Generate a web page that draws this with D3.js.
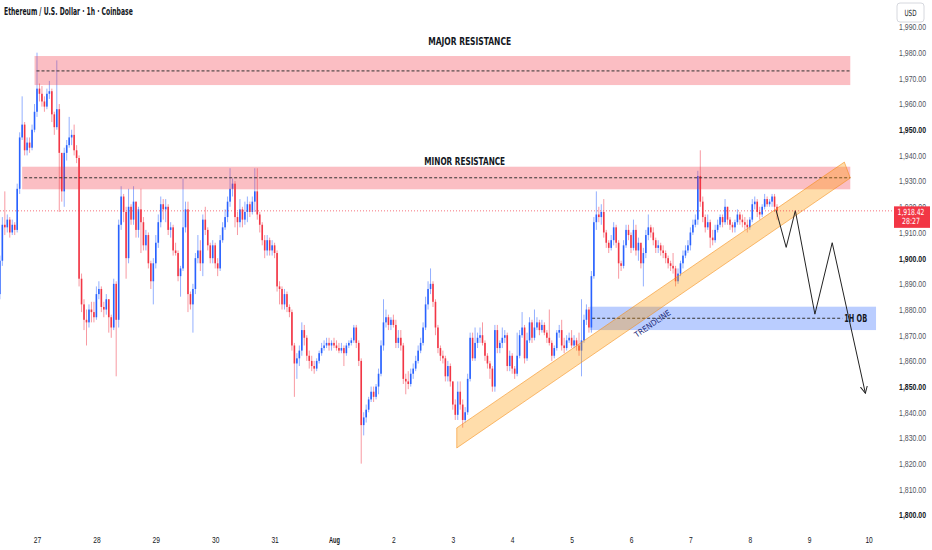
<!DOCTYPE html>
<html>
<head>
<meta charset="utf-8">
<script src="https://cdn.jsdelivr.net/npm/d3@7"></script>
<style>
body { margin: 0; background: #fff; }
svg { display: block; font-family: "Liberation Sans Narrow", "DejaVu Sans Condensed", Roboto, sans-serif; }
</style>
</head>
<body>
<script>
// hourly candles, hour 0 = Jul 27 00:00, first candle is Jul 26 09:00
const firstHour = -15;
const firstOpen = 1886;
const closes = [1899,1913,1912,1915,1910,1913,1911,1927,1947,1952,1942,1945,1943,1950,1957,1966,1964,1961,1959,1964,
1965,1956,1951,1958,1941,1926,1941,1944,1947,1948,1942,1939,1892,1882,1876,1875,1880,1879,1877,1886,
1888,1881,1880,1884,1877,1873,1890,1876,1913,1924,1918,1900,1920,1915,1922,1911,1919,1914,1905,1909,
1898,1891,1898,1906,1914,1921,1919,1920,1911,1912,1903,1902,1893,1896,1912,1919,1886,1882,1888,1900,
1903,1898,1915,1911,1905,1900,1905,1898,1896,1907,1912,1916,1922,1927,1929,1916,1914,1919,1915,1918,
1921,1918,1922,1926,1917,1913,1907,1903,1907,1903,1905,1902,1889,1888,1882,1886,1881,1879,1866,1859,
1861,1864,1872,1869,1862,1860,1858,1857,1860,1863,1865,1866,1867,1866,1867,1866,1865,1864,1865,1863,
1866,1867,1868,1873,1867,1860,1835,1838,1841,1845,1848,1846,1850,1855,1866,1875,1877,1874,1876,1874,
1867,1869,1866,1853,1852,1851,1855,1857,1860,1864,1867,1873,1882,1888,1890,1883,1873,1865,1862,1861,
1854,1858,1852,1843,1839,1848,1843,1837,1840,1853,1869,1861,1867,1869,1870,1867,1862,1859,1857,1850,
1872,1865,1867,1869,1870,1858,1862,1857,1855,1862,1870,1873,1861,1868,1875,1869,1873,1875,1872,1874,
1871,1869,1867,1862,1865,1871,1872,1866,1865,1868,1869,1866,1868,1866,1864,1868,1876,1880,1873,1893,
1914,1917,1916,1918,1910,1906,1904,1907,1912,1906,1898,1897,1905,1911,1909,1904,1911,1903,1906,1898,
1902,1909,1912,1910,1907,1904,1905,1903,1902,1900,1898,1897,1896,1891,1894,1898,1901,1903,1905,1910,
1913,1915,1932,1922,1916,1912,1914,1908,1907,1911,1913,1916,1914,1920,1915,1913,1912,1914,1917,1915,
1914,1913,1912,1915,1921,1922,1918,1917,1920,1923,1921,1922,1924,1920,1918.42];
const highs = [1901,1916,1926,1917,1916,1915,1914,1929,1949,1963,1953,1947,1947,1952,1960,1980,1968,1967,1963,1966,
1969,1966,1957,1977,1960,1940,1943,1946,1955,1950,1952,1944,1940,1894,1884,1880,1882,1883,1883,1889,
1891,1889,1883,1886,1884,1878,1892,1891,1915,1928,1925,1920,1927,1921,1928,1922,1920,1927,1916,1911,
1910,1899,1900,1909,1917,1924,1923,1923,1921,1914,1913,1906,1903,1897,1931,1922,1922,1887,1890,1902,
1909,1907,1917,1920,1912,1906,1907,1906,1900,1909,1914,1919,1924,1935,1931,1930,1918,1923,1920,1922,
1924,1922,1924,1935,1935,1918,1914,1909,1909,1908,1907,1906,1903,1891,1889,1888,1887,1882,1880,1867,
1863,1866,1875,1874,1870,1864,1862,1860,1861,1864,1867,1868,1869,1869,1868,1869,1868,1867,1867,1866,
1867,1868,1869,1874,1874,1868,1861,1840,1843,1846,1850,1850,1851,1857,1868,1884,1880,1878,1877,1878,
1876,1872,1872,1867,1855,1856,1857,1859,1862,1866,1869,1875,1885,1891,1896,1891,1884,1874,1866,1864,
1862,1860,1859,1852,1845,1852,1852,1845,1842,1855,1871,1871,1873,1871,1873,1875,1868,1863,1860,1858,
1874,1874,1868,1873,1872,1871,1864,1863,1858,1871,1872,1879,1874,1871,1877,1876,1880,1877,1876,1876,
1875,1872,1880,1868,1866,1872,1874,1876,1869,1870,1871,1872,1870,1869,1871,1884,1878,1882,1881,1895,
1916,1926,1920,1921,1923,1911,1907,1909,1914,1913,1907,1899,1907,1913,1913,1910,1915,1913,1908,1905,
1904,1911,1917,1913,1912,1908,1907,1906,1905,1903,1901,1899,1902,1897,1896,1899,1903,1905,1907,1912,
1915,1917,1934,1942,1924,1917,1917,1915,1911,1913,1915,1917,1917,1923,1920,1916,1914,1915,1919,1918,
1917,1916,1915,1916,1923,1924,1923,1920,1921,1925,1924,1923,1925,1925,1921];
const lows = [1884,1897,1909,1910,1908,1909,1909,1910,1925,1946,1940,1940,1941,1942,1949,1955,1961,1959,1957,1958,
1962,1953,1948,1950,1918,1922,1920,1938,1943,1944,1940,1937,1889,1879,1872,1866,1873,1875,1875,1876,
1884,1879,1877,1878,1871,1869,1872,1854,1873,1911,1914,1892,1898,1913,1913,1908,1908,1902,1903,1903,
1896,1888,1882,1896,1904,1912,1915,1914,1909,1908,1901,1901,1891,1885,1895,1910,1879,1880,1871,1886,
1898,1895,1893,1909,1903,1898,1898,1896,1893,1895,1906,1911,1914,1920,1924,1912,1909,1912,1912,1913,
1914,1916,1917,1918,1915,1910,1905,1900,1901,1901,1901,1900,1887,1882,1880,1880,1879,1877,1864,1846,
1853,1858,1862,1866,1860,1857,1856,1855,1856,1859,1862,1864,1865,1864,1864,1865,1864,1863,1863,1858,
1862,1865,1866,1867,1865,1858,1820,1831,1836,1840,1844,1844,1845,1847,1854,1864,1873,1872,1872,1873,
1865,1865,1864,1851,1847,1849,1850,1853,1856,1859,1863,1866,1872,1880,1886,1881,1870,1863,1860,1859,
1852,1852,1850,1841,1837,1837,1841,1834,1836,1839,1852,1860,1860,1865,1867,1866,1860,1857,1853,1848,
1848,1863,1863,1865,1867,1856,1856,1855,1853,1854,1861,1869,1859,1860,1867,1867,1868,1872,1870,1871,
1870,1867,1866,1860,1861,1864,1869,1864,1863,1864,1867,1865,1865,1864,1862,1854,1867,1874,1871,1871,
1892,1911,1914,1913,1908,1904,1902,1903,1905,1904,1892,1895,1896,1904,1907,1902,1903,1901,1899,1896,
1889,1900,1907,1908,1905,1902,1902,1901,1900,1898,1896,1895,1894,1889,1890,1893,1896,1900,1902,1903,
1909,1912,1913,1920,1914,1910,1911,1904,1905,1906,1910,1912,1912,1913,1913,1911,1910,1910,1913,1913,
1912,1911,1910,1911,1914,1919,1916,1915,1916,1919,1920,1920,1920,1918,1915];

// axis labels
const dayHours = [0,24,48,72,96,120,144,168,192,216,240,264,288,312,336];
const dayLabels = ["27","28","29","30","31","Aug","2","3","4","5","6","7","8","9","10"];
const priceTicks = [1800,1810,1820,1830,1840,1850,1860,1870,1880,1890,1900,1910,1920,1930,1940,1950,1960,1970,1980,1990];

// drawn zones: two resistance boxes and the 1H order block
const zoneNames = ["MAJOR RESISTANCE", "MINOR RESISTANCE", "1H OB"];
const zoneStart = [-1, -6, 223.5];
const zoneEnd = [328.6, 328.6, 339];
const zoneLow = [1967.4, 1926.8, 1872.0];
const zoneHigh = [1978.7, 1935.6, 1881.1];
const zoneMid = [1972.9, 1931.3, 1876.6];

// rising channel ("TRENDLINE")
const channelHours = [169.6, 326.2, 328.6, 169.6];
const channelPrices = [1833.9, 1937.4, 1931.2, 1826.1];

// projected path
const projHours = [298.6, 302.7, 306.4, 314.3, 321.3, 334.7];
const projPrices = [1918.7, 1904.2, 1918.5, 1878.2, 1906.0, 1847.4];

const lastPrice = 1918.42;
const countdown = "28:27";
const title = "Ethereum / U.S. Dollar \u00b7 1h \u00b7 Coinbase";

// the reference text is narrow: squash each text horizontally to its measured width.
// text must sit at x=0 of its parent so the scale keeps the anchor in place
function fit(sel, len) {
    sel.each(function(d, i) {
        let w = this.getComputedTextLength();
        let target = typeof len == "function" ? len(d, i) : len;
        if (w > 0) d3.select(this).attr("transform", "scale(" + (target / w) + ",1)");
    });
}

function label(parent, px, py, str, size, weight, fill, len, anchor, rot) {
    let g = parent.append("g")
        .attr("transform", "translate(" + px + "," + py + ")" + (rot ? " rotate(" + rot + ")" : ""));
    g.append("text")
        .attr("text-anchor", anchor || "middle")
        .attr("font-size", size)
        .attr("font-weight", weight)
        .attr("fill", fill)
        .text(str)
        .call(fit, len);
    return g;
}

function run() {
    let W = 932, H = 550;
    let up = "#2962ff", down = "#f23645";
    let svg = d3.select("body").append("svg")
        .attr("width", W)
        .attr("height", H);

    let x = d3.scaleLinear().domain([0, 336]).range([37, 868.6]);
    let y = d3.scaleLinear().domain([1800, 1990]).range([515, 27]);

    let plot = svg.append("g");

    let candles = closes.map((c, i) => ({
        t: firstHour + i,
        o: i ? closes[i - 1] : firstOpen,
        h: highs[i], l: lows[i], c: c
    }));

    // wicks
    plot.selectAll(".wick").data(candles).enter().append("line")
        .attr("x1", d => x(d.t)).attr("x2", d => x(d.t))
        .attr("y1", d => y(d.h)).attr("y2", d => y(d.l))
        .attr("stroke", d => d.c >= d.o ? up : down)
        .attr("stroke-opacity", 0.5)
        .attr("stroke-width", 1);
    // bodies
    plot.selectAll(".body").data(candles).enter().append("rect")
        .attr("x", d => x(d.t) - 0.8)
        .attr("width", 1.6)
        .attr("y", d => y(Math.max(d.o, d.c)))
        .attr("height", d => Math.max(1, Math.abs(y(d.o) - y(d.c))))
        .attr("fill", d => d.c >= d.o ? up : down);

    // zones
    let zoneFill = ["rgba(242,54,69,0.32)", "rgba(242,54,69,0.32)", "rgba(41,98,255,0.32)"];
    zoneNames.forEach((name, i) => {
        plot.append("rect")
            .attr("x", x(zoneStart[i]))
            .attr("y", y(zoneHigh[i]))
            .attr("width", x(zoneEnd[i]) - x(zoneStart[i]))
            .attr("height", y(zoneLow[i]) - y(zoneHigh[i]))
            .attr("fill", zoneFill[i]);
        let lineEnd = i == 2 ? x(325.4) : x(zoneEnd[i]);
        plot.append("line")
            .attr("x1", x(zoneStart[i]) + 2).attr("x2", lineEnd)
            .attr("y1", y(zoneMid[i])).attr("y2", y(zoneMid[i]))
            .attr("stroke", "#333")
            .attr("stroke-width", 1)
            .attr("stroke-dasharray", "3,2");
    });
    label(plot, x(174.8), y(1983), zoneNames[0], 10.5, "bold", "#131722", 83);
    label(plot, x(172.8), y(1936.2), zoneNames[1], 10.5, "bold", "#131722", 81);
    label(plot, x(330.8), y(1875.2), zoneNames[2], 10, "bold", "#131722", 23);

    // channel
    let chPts = channelHours.map((h, i) => [x(h), y(channelPrices[i])]);
    plot.append("path")
        .attr("d", d3.line()(chPts) + "Z")
        .attr("fill", "rgba(255,152,0,0.33)")
        .attr("stroke", "rgba(245,140,20,0.7)")
        .attr("stroke-width", 0.8);
    let ang = Math.atan2(chPts[1][1] - chPts[0][1], chPts[1][0] - chPts[0][0]) * 180 / Math.PI;
    label(plot, x(249.3), y(1873.6), "TRENDLINE", 8, "normal", "#1c2a7a", 42, "middle", ang);

    // projection
    svg.append("defs").append("marker")
        .attr("id", "arr")
        .attr("viewBox", "0 0 8 8")
        .attr("refX", 7).attr("refY", 4)
        .attr("markerWidth", 8).attr("markerHeight", 8)
        .attr("orient", "auto")
        .append("path")
        .attr("d", "M0,0.5 L7,4 L0,7.5")
        .attr("fill", "none")
        .attr("stroke", "#222")
        .attr("stroke-width", 1);
    plot.append("path")
        .attr("d", d3.line()(projHours.map((h, i) => [x(h), y(projPrices[i])])))
        .attr("fill", "none")
        .attr("stroke", "#222")
        .attr("stroke-width", 1)
        .attr("marker-end", "url(#arr)");

    // last price line
    plot.append("line")
        .attr("x1", 0).attr("x2", 893)
        .attr("y1", y(lastPrice)).attr("y2", y(lastPrice))
        .attr("stroke", down)
        .attr("stroke-opacity", 0.7)
        .attr("stroke-width", 1)
        .attr("stroke-dasharray", "1,2");

    // price axis
    let yAxis = svg.append("g")
        .attr("transform", "translate(926,0)")
        .call(d3.axisRight(y).tickValues(priceTicks).tickSize(0).tickPadding(0)
            .tickFormat(d3.format(",.2f")));
    yAxis.select(".domain").remove();
    yAxis.selectAll("text")
        .attr("text-anchor", "end")
        .attr("font-family", null)
        .attr("font-size", 9)
        .attr("fill", d => d % 50 == 0 ? "#131722" : "#50535e")
        .attr("font-weight", d => d % 50 == 0 ? "bold" : "normal")
        .call(fit, 27);

    // date axis
    let xAxis = svg.append("g")
        .attr("transform", "translate(0,535)")
        .call(d3.axisBottom(x).tickValues(dayHours).tickSize(0).tickPadding(2)
            .tickFormat((d, i) => dayLabels[i]));
    xAxis.select(".domain").remove();
    xAxis.selectAll("text")
        .attr("font-family", null)
        .attr("font-size", 9)
        .attr("fill", "#131722")
        .attr("font-weight", (d, i) => dayLabels[i] == "Aug" ? "bold" : "normal")
        .call(fit, (d, i) => dayLabels[i].length * 3.7);

    // last price tag (covers the lower half of the 1,920 label, as in the source)
    let ly = y(lastPrice);
    svg.append("rect")
        .attr("x", 894).attr("y", ly - 4.5)
        .attr("width", 36).attr("height", 21.5)
        .attr("fill", down);
    label(svg, 911, ly + 4, d3.format(",.2f")(lastPrice), 8.5, "normal", "#fff", 27);
    label(svg, 911, ly + 13.5, countdown, 8.5, "normal", "#fff", 18);

    // currency box
    svg.append("rect")
        .attr("x", 897).attr("y", 3)
        .attr("width", 27).attr("height", 19)
        .attr("rx", 3)
        .attr("fill", "#fff")
        .attr("stroke", "#d6d8de");
    label(svg, 910.5, 16, "USD", 8.5, "normal", "#131722", 12);

    // title
    label(svg, 4, 15, title, 10, "bold", "#131722", 129, "start");
}
window.onload = run;
</script>
</body>
</html>
